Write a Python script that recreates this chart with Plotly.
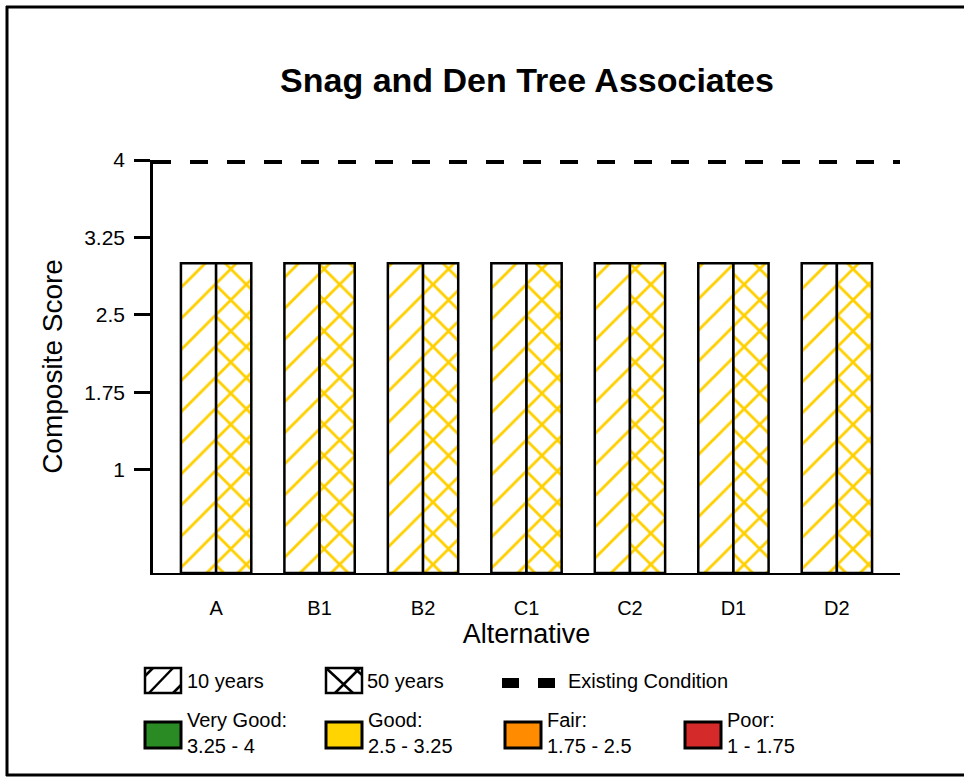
import plotly.graph_objects as go

# data
alternatives = ["A", "B1", "B2", "C1", "C2", "D1", "D2"]
score_10yr = [3, 3, 3, 3, 3, 3, 3]
score_50yr = [3, 3, 3, 3, 3, 3, 3]
existing_condition = 4
score_ticks = [1, 1.75, 2.5, 3.25, 4]
score_ticklabels = ["1", "1.75", "2.5", "3.25", "4"]

rating_labels = ["Very Good:<br>3.25 - 4", "Good:<br>2.5 - 3.25", "Fair:<br>1.75 - 2.5", "Poor:<br>1 - 1.75"]
rating_colors = ["#2a8a24", "#ffd400", "#ff8c00", "#d42a2a"]

W, H = 964, 778
L, R, T, B = 153, 900, 160, 573
FONT = "Liberation Sans, Arial, sans-serif"
GOLD = "#ffd000"


def px(x):
    return (x - L) / (R - L)


def py(y):
    return (B - y) / (B - T)


fig = go.Figure()
fig.add_bar(x=alternatives, y=score_10yr, name="10 years",
            marker=dict(color="white", line=dict(color="black", width=2.5),
                        pattern=dict(shape="/", fgcolor=GOLD, bgcolor="white",
                                     fgopacity=1, size=22, solidity=0.13)))
fig.add_bar(x=alternatives, y=score_50yr, name="50 years",
            marker=dict(color="white", line=dict(color="black", width=2.5),
                        pattern=dict(shape="x", fgcolor=GOLD, bgcolor="white",
                                     fgopacity=1, size=22, solidity=0.24)))

shapes = []
# existing condition line
shapes.append(dict(type="line", xref="paper", yref="y", x0=0, x1=1,
                   y0=existing_condition, y1=existing_condition,
                   line=dict(color="black", width=8, dash="18px,19px")))

blk = dict(color="black", width=2.5)


def seg(x0, y0, x1, y1, line=blk):
    shapes.append(dict(type="line", xref="paper", yref="paper",
                       x0=px(x0), y0=py(y0), x1=px(x1), y1=py(y1), line=line))


def box(x0, y0, x1, y1, fill="white", lw=2.5):
    shapes.append(dict(type="rect", xref="paper", yref="paper",
                       x0=px(x0), y0=py(y0), x1=px(x1), y1=py(y1),
                       fillcolor=fill, line=dict(color="black", width=lw)))


# outer frame (open on the right)
frame = dict(color="black", width=3)
seg(6, 7, 964, 7, frame)
seg(7, 6, 7, 776, frame)
seg(6, 775, 964, 775, frame)

annotations = []


def label(x, y, text):
    annotations.append(dict(xref="paper", yref="paper", x=px(x), y=py(y),
                            text=text, showarrow=False, xanchor="left",
                            yanchor="middle", align="left",
                            font=dict(family=FONT, size=20, color="black")))


# legend row 1
box(145, 668, 181, 693)
seg(145, 676, 153, 668)
seg(149, 693, 173, 668)
seg(173, 693, 181, 685)
label(185, 681, "10 years")

box(326, 668, 362, 693)
seg(326, 668, 353, 693)
seg(335, 693, 360, 668)
seg(354, 668, 362, 675)
label(365, 681, "50 years")

seg(502, 683, 555, 683, line=dict(color="black", width=10, dash="17px,19px"))
label(566, 681, "Existing Condition")

# legend row 2
box_x = [145, 326, 505, 685]
for bx, txt, col in zip(box_x, rating_labels, rating_colors):
    box(bx, 722, bx + 36, 748, fill=col, lw=3)
    label(bx + 40, 733, txt)

fig.update_layout(
    width=W, height=H,
    margin=dict(l=L, r=W - R, t=T, b=H - B, autoexpand=False),
    paper_bgcolor="white", plot_bgcolor="white",
    barmode="group", bargap=0.32, bargroupgap=0,
    showlegend=False,
    font=dict(family=FONT, color="black"),
    title=dict(text="<b>Snag and Den Tree Associates</b>", x=527 / W, xanchor="center",
               y=1 - 80 / H, yanchor="middle", font=dict(size=34, family=FONT)),
    shapes=shapes, annotations=annotations,
)
fig.update_xaxes(range=[-0.61, 6.61], showline=True, linecolor="black", linewidth=2,
                 ticks="", ticklabelstandoff=16, tickfont=dict(size=20),
                 showgrid=False, zeroline=False,
                 title=dict(text="Alternative", font=dict(size=27), standoff=6))
fig.update_yaxes(range=[0, 4], tickvals=score_ticks, ticktext=score_ticklabels,
                 showline=True, linecolor="black", linewidth=2.5,
                 ticks="outside", ticklen=16, tickwidth=2.5, tickcolor="black",
                 ticklabelstandoff=5, tickfont=dict(size=21),
                 showgrid=False, zeroline=False,
                 title=dict(text="Composite Score", font=dict(size=28), standoff=14))

fig.write_html("out.html", config={"displayModeBar": False},
               post_script="document.body.style.margin='0px';")
